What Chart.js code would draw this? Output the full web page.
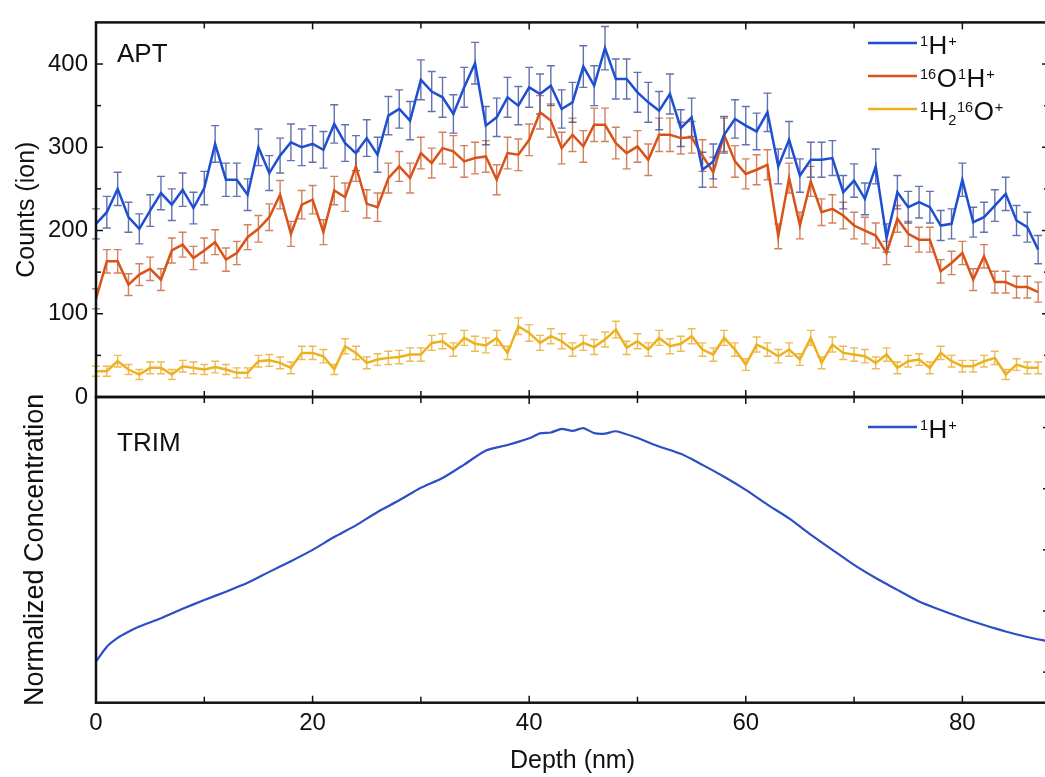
<!DOCTYPE html>
<html><head><meta charset="utf-8">
<script src="https://cdn.jsdelivr.net/npm/chart.js@4.4.1/dist/chart.umd.min.js"></script>
<style>
html,body{margin:0;padding:0;background:#fff;overflow:hidden;}
#wrap{position:relative;width:1045px;height:777px;overflow:hidden;background:#fff;}
#c1{position:absolute;left:0;top:0;}
#c2{position:absolute;left:0;top:380px;}
</style></head><body>
<div id="wrap"><canvas id="c1" width="1070" height="420"></canvas><canvas id="c2" width="1070" height="397"></canvas></div>
<script>
// ---------- data ----------
const depth = [0,1,2,3,4,5,6,7,8,9,10,11,12,13,14,15,16,17,18,19,20,21,22,23,24,25,26,27,28,29,30,31,32,33,34,35,36,37,38,39,40,41,42,43,44,45,46,47,48,49,50,51,52,53,54,55,56,57,58,59,60,61,62,63,64,65,66,67,68,69,70,71,72,73,74,75,76,77,78,79,80,81,82,83,84,85,86,87];
const h1 = [208,222,250,216,202,224,245,231,249,227,251,304,261,261,243,300,269,290,306,300,304,297,328,305,293,311,291,338,346,332,381,367,360,340,372,401,326,336,360,350,372,364,374,346,354,397,374,419,382,382,366,354,344,364,323,336,273,283,315,334,326,319,342,277,309,266,285,285,287,246,260,238,277,191,246,228,234,228,206,208,261,210,216,230,244,212,204,177];
const h1Err = [18,19,20,18,18,19,20,19,20,19,20,22,20,20,19,22,21,21,22,22,22,22,23,22,21,22,21,23,23,23,24,24,24,23,24,25,23,23,24,23,24,24,24,23,24,25,24,26,24,24,24,24,23,24,22,23,21,21,22,23,23,22,23,21,22,20,21,21,21,20,20,19,21,17,20,19,19,19,18,18,20,18,18,19,20,18,18,17];
const oh = [118,163,163,135,147,154,141,176,183,167,176,186,165,173,192,202,216,243,196,231,237,198,248,240,277,232,228,263,277,263,293,281,299,295,283,287,289,261,293,291,309,342,332,299,315,301,327,327,305,293,301,285,315,315,311,312,290,270,315,283,268,273,279,193,263,206,259,222,226,218,206,200,194,173,214,196,189,189,151,161,173,141,169,138,138,132,132,126];
const ohErr = [12,14,14,13,13,14,13,15,15,14,15,15,14,14,15,16,16,17,15,17,17,15,17,17,18,17,17,18,18,18,19,18,19,19,19,19,19,18,19,19,19,20,20,19,20,19,20,20,19,19,19,19,20,20,19,19,19,18,20,19,18,18,18,15,18,16,18,16,17,16,16,16,15,14,16,15,15,15,14,14,14,13,14,13,13,13,13,12];
const h2o = [31,31,43,33,27,35,35,27,37,35,33,36,33,29,29,43,44,41,35,53,53,49,33,61,53,41,45,47,48,51,51,65,67,57,71,64,62,71,53,85,77,65,73,67,57,65,60,69,81,59,67,57,71,61,64,73,57,51,71,57,39,63,57,49,57,45,71,41,63,53,51,49,41,51,35,43,45,35,53,43,37,37,43,47,27,39,35,35];
const h2oErr = [6,6,7,6,6,7,7,6,7,7,6,7,6,6,6,7,7,7,7,8,8,8,6,9,8,7,7,8,8,8,8,9,9,8,9,9,9,9,8,10,10,9,9,9,8,9,9,9,10,8,9,8,9,9,9,9,8,8,9,8,7,9,8,8,8,7,9,7,9,8,8,8,7,8,7,7,7,7,8,7,7,7,7,8,6,7,7,7];
const trimDepth = [0,1,2,3,4,6,8,10,12,14,16,18,20,22,24,26,28,30,32,34,36,38,40,41,42,43,44,45,46,47,48,50,52,54,56,58,60,62,64,66,68,70,72,74,76,78,80,82,84,86,88];
const trimConc = [0.135,0.183,0.212,0.232,0.249,0.276,0.307,0.336,0.363,0.392,0.428,0.463,0.500,0.542,0.580,0.624,0.662,0.703,0.735,0.779,0.825,0.843,0.865,0.881,0.884,0.896,0.889,0.898,0.882,0.880,0.888,0.866,0.838,0.814,0.778,0.739,0.696,0.648,0.603,0.550,0.500,0.451,0.408,0.369,0.331,0.303,0.277,0.254,0.233,0.215,0.200];
const xTickLabels = [0,20,40,60,80];
const xMinorTicks = [10,30,50,70];
const yTickLabelsTop = [0,100,200,300,400];
const yMinorTop = [50,150,250,350];
const yTicksBottom = [0.1,0.3,0.5,0.7,0.9];

// ---------- styling ----------
const FONT = '"Liberation Sans", Arial, Helvetica, sans-serif';
const BLUE = '#1f4fd1', ORANGE = '#d95319', YELLOW = '#edb120', TRIMBLUE = '#2b4fc4';
const INK = '#111';

function pts(xs, ys){ return xs.map((x,i)=>({x:x, y:ys[i]})); }

function drawRich(ctx, parts, x, baseline, size){
  let cx = x;
  ctx.textBaseline = 'alphabetic';
  ctx.textAlign = 'left';
  ctx.fillStyle = INK;
  for (const p of parts){
    const fs = p.s ? size*0.56 : size;
    ctx.font = fs + 'px ' + FONT;
    const dy = p.s === 'sup' ? -size*0.31 : (p.s === 'sub' ? size*0.2 : 0);
    ctx.fillText(p.t, cx, baseline + dy);
    cx += ctx.measureText(p.t).width + (p.s ? 0.5 : 1);
  }
}

function tickX(ctx, xs, a, vals, len, top, bottom){
  for (const v of vals){
    const px = xs.getPixelForValue(v);
    if (top){ ctx.beginPath(); ctx.moveTo(px, a.top); ctx.lineTo(px, a.top+len); ctx.stroke(); }
    if (bottom){ ctx.beginPath(); ctx.moveTo(px, a.bottom); ctx.lineTo(px, a.bottom-len); ctx.stroke(); }
  }
}
function tickY(ctx, ys, a, vals, len, left, right){
  for (const v of vals){
    const py = ys.getPixelForValue(v);
    if (left){ ctx.beginPath(); ctx.moveTo(a.left, py); ctx.lineTo(a.left+len, py); ctx.stroke(); }
    if (right){ ctx.beginPath(); ctx.moveTo(a.right, py); ctx.lineTo(a.right-len, py); ctx.stroke(); }
  }
}

const errSets = [
  {ds:0, err:h1Err, color:'rgba(45,65,150,0.75)'},
  {ds:1, err:ohErr, color:'rgba(195,85,40,0.75)'},
  {ds:2, err:h2oErr, color:'rgba(232,175,55,0.85)'}
];

const errPlugin = {
  id:'errbars',
  beforeDatasetsDraw(chart){
    const {ctx, scales:{x, y}} = chart;
    ctx.save();
    ctx.lineWidth = 1.4;
    for (let k = errSets.length-1; k >= 0; k--){
      const s = errSets[k];
      const data = chart.data.datasets[s.ds].data;
      ctx.strokeStyle = s.color;
      data.forEach((p, i) => {
        const px = x.getPixelForValue(p.x);
        const y1 = y.getPixelForValue(p.y - s.err[i]);
        const y2 = y.getPixelForValue(p.y + s.err[i]);
        ctx.beginPath();
        ctx.moveTo(px, y1); ctx.lineTo(px, y2);
        ctx.moveTo(px-4, y1); ctx.lineTo(px+4, y1);
        ctx.moveTo(px-4, y2); ctx.lineTo(px+4, y2);
        ctx.stroke();
      });
    }
    ctx.restore();
  }
};

const topDecor = {
  id:'topDecor',
  afterDraw(chart){
    const {ctx, chartArea:a, scales:{x, y}} = chart;
    ctx.save();
    ctx.strokeStyle = INK;
    ctx.lineWidth = 1.5;
    tickX(ctx, x, a, xTickLabels, 7, true, true);
    tickX(ctx, x, a, xMinorTicks, 6, true, true);
    tickY(ctx, y, a, yTickLabelsTop, 7, true, true);
    tickY(ctx, y, a, yMinorTop, 5, true, true);
    ctx.lineWidth = 2.5;
    ctx.strokeRect(a.left, a.top, a.right-a.left, a.bottom-a.top);
    ctx.fillStyle = INK;
    ctx.font = '26px ' + FONT;
    ctx.textBaseline = 'middle';
    ctx.fillText('APT', 117, 55);
    const rows = [
      {c:BLUE, y:43, parts:[{t:'1',s:'sup'},{t:'H'},{t:'+',s:'sup'}]},
      {c:ORANGE, y:76, parts:[{t:'16',s:'sup'},{t:'O'},{t:'1',s:'sup'},{t:'H'},{t:'+',s:'sup'}]},
      {c:YELLOW, y:109, parts:[{t:'1',s:'sup'},{t:'H'},{t:'2',s:'sub'},{t:'16',s:'sup'},{t:'O'},{t:'+',s:'sup'}]}
    ];
    for (const r of rows){
      ctx.strokeStyle = r.c; ctx.lineWidth = 2.5;
      ctx.beginPath(); ctx.moveTo(868, r.y); ctx.lineTo(917, r.y); ctx.stroke();
      drawRich(ctx, r.parts, 920, r.y + 11, 26);
    }
    ctx.restore();
  }
};

const botDecor = {
  id:'botDecor',
  afterDraw(chart){
    const {ctx, chartArea:a, scales:{x, y}} = chart;
    ctx.save();
    ctx.strokeStyle = INK;
    ctx.lineWidth = 1.5;
    tickX(ctx, x, a, xTickLabels, 7, true, true);
    tickX(ctx, x, a, xMinorTicks, 6, true, true);
    tickY(ctx, y, a, yTicksBottom, 6, false, true);
    ctx.lineWidth = 2.5;
    ctx.strokeRect(a.left, a.top, a.right-a.left, a.bottom-a.top);
    ctx.fillStyle = INK;
    ctx.font = '26px ' + FONT;
    ctx.textBaseline = 'middle';
    ctx.fillText('TRIM', 117, 64);
    ctx.strokeStyle = TRIMBLUE; ctx.lineWidth = 2.5;
    ctx.beginPath(); ctx.moveTo(868, 47); ctx.lineTo(917, 47); ctx.stroke();
    drawRich(ctx, [{t:'1',s:'sup'},{t:'H'},{t:'+',s:'sup'}], 920, 58, 26);
    ctx.restore();
  }
};

new Chart(document.getElementById('c1'), {
  type:'line',
  data:{datasets:[
    {label:'1H+', data:pts(depth,h1), borderColor:BLUE, borderWidth:2.5, pointRadius:0, tension:0},
    {label:'16O1H+', data:pts(depth,oh), borderColor:ORANGE, borderWidth:2.5, pointRadius:0, tension:0},
    {label:'1H2 16O+', data:pts(depth,h2o), borderColor:YELLOW, borderWidth:2.5, pointRadius:0, tension:0}
  ]},
  options:{
    responsive:false, animation:false, devicePixelRatio:1,
    layout:{padding:{left:0, top:15, right:21, bottom:23}},
    plugins:{legend:{display:false}, tooltip:{enabled:false}},
    scales:{
      x:{type:'linear', min:0, max:88, display:false},
      y:{min:0, max:450,
        afterFit(s){ s.width = 96; },
        afterBuildTicks(s){ s.ticks = yTickLabelsTop.map(v=>({value:v})); },
        grid:{display:false, drawTicks:false}, border:{display:false},
        ticks:{font:{family:FONT, size:24}, color:INK, padding:8},
        title:{display:true, text:'Counts (ion)', font:{family:FONT, size:25}, color:INK, padding:{top:12, bottom:0}}
      }
    }
  },
  plugins:[errPlugin, topDecor]
});

new Chart(document.getElementById('c2'), {
  type:'line',
  data:{datasets:[
    {label:'TRIM 1H+', data:pts(trimDepth,trimConc), borderColor:TRIMBLUE, borderWidth:2.2, pointRadius:0, tension:0.2}
  ]},
  options:{
    responsive:false, animation:false, devicePixelRatio:1,
    layout:{padding:{left:0, top:17, right:21, bottom:0}},
    plugins:{legend:{display:false}, tooltip:{enabled:false}},
    scales:{
      x:{type:'linear', min:0, max:88,
        afterFit(s){ s.height = 74.3; },
        afterBuildTicks(s){ s.ticks = xTickLabels.map(v=>({value:v})); },
        grid:{display:false, drawTicks:false}, border:{display:false},
        ticks:{font:{family:FONT, size:24}, color:INK, padding:6, maxRotation:0, autoSkip:false},
        title:{display:true, text:'Depth (nm)', font:{family:FONT, size:25}, color:INK, padding:{top:0, bottom:1}}
      },
      y:{min:0, max:1,
        afterFit(s){ s.width = 96; },
        ticks:{display:false},
        grid:{display:false, drawTicks:false}, border:{display:false},
        title:{display:true, text:'Normalized Concentration', font:{family:FONT, size:27}, color:INK, padding:{top:19, bottom:0}}
      }
    }
  },
  plugins:[botDecor]
});
</script>
</body></html>
